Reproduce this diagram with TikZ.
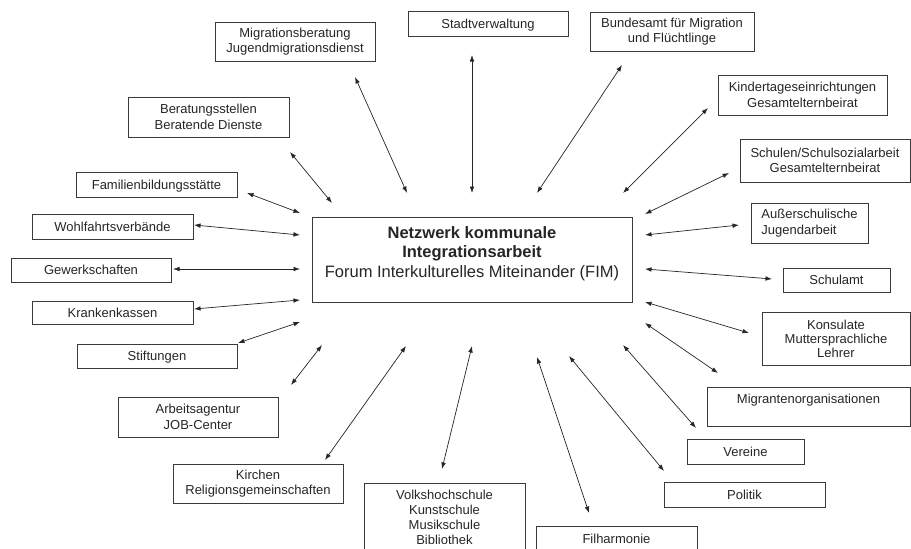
\documentclass[tikz,border=0pt]{standalone}
\usepackage{fontspec}
\setmainfont{Liberation Sans}
\usetikzlibrary{arrows.meta}
\definecolor{txt}{HTML}{262626}
\definecolor{edge}{HTML}{3A3A3A}
\tikzset{
  box/.style={draw=edge, line width=0.8pt, fill=white, inner sep=0pt, align=center, text=txt,
    font=\fontsize{13}{15.5}\selectfont},
  onebox/.style={draw=edge, line width=0.8pt, fill=white, inner sep=0pt, text=txt,
    font=\fontsize{13}{15.5}\selectfont, text height=9.5pt, text depth=0pt},
  hub/.style={draw=edge, line width=0.8pt, fill=white, inner sep=0pt},
  hubtext/.style={inner sep=0pt, align=center, text=txt, font=\fontsize{16.5}{19.5}\selectfont},
  link/.style={draw=black!85, line width=0.7pt, {Latex[length=6.5pt,width=4.6pt]}-{Latex[length=6.5pt,width=4.6pt]}}
}
\begin{document}
\begin{tikzpicture}[x=1pt,y=-1pt]
\useasboundingbox (0,0) rectangle (911,549);
\fill[white] (0,0) rectangle (911,549);
\clip (0,0) rectangle (911,549);

% hub
\node[hub, minimum width=320pt, minimum height=85pt] (hub) at (472,259.5) {};
\node[hubtext] (hublabel) at (472,253.5)
  {\textbf{Netzwerk kommunale}\\\textbf{Integrationsarbeit}\\Forum Interkulturelles Miteinander (FIM)};

% boxes
\node[box, minimum width=160pt, minimum height=39pt] (mig) at (295,41.5) {Migrationsberatung\\Jugendmigrationsdienst};
\node[onebox, minimum width=160pt, minimum height=24.5pt] (stadt) at (488,23.75) {Stadtverwaltung};
\node[box, minimum width=164pt, minimum height=39pt] (bamf) at (672,31.5) {Bundesamt für Migration\\und Flüchtlinge};
\node[box, minimum width=169pt, minimum height=40pt] (kita) at (802.5,95) {Kindertageseinrichtungen\\Gesamtelternbeirat};
\node[box, minimum width=170pt, minimum height=43pt] (schulen) at (825,160.5) {Schulen/Schulsozialarbeit\\Gesamtelternbeirat};
\node[box, align=left, minimum width=117pt, minimum height=40pt] (aussen) at (809.5,223) {Außerschulische\\Jugendarbeit};
\node[onebox, minimum width=107pt, minimum height=24pt] (schulamt) at (836.5,280) {Schulamt};
\node[box, minimum width=148pt, minimum height=53pt, font=\fontsize{13}{14}\selectfont] (konsul) at (836,338.5) {Konsulate\\Muttersprachliche\\Lehrer};
\node[box, minimum width=203pt, minimum height=39pt] (migorg) at (808.5,406.5) {Migrantenorganisationen\\~};
\node[onebox, minimum width=117pt, minimum height=25pt] (vereine) at (745.5,451.5) {Vereine};
\node[onebox, minimum width=161pt, minimum height=25pt] (politik) at (744.5,494.5) {Politik};
\node[onebox, minimum width=161pt, minimum height=26pt] (filh) at (616.5,539) {Filharmonie};
\node[box, minimum width=161pt, minimum height=69pt, font=\fontsize{13}{15}\selectfont] (vhs) at (444.5,517.5) {Volkshochschule\\Kunstschule\\Musikschule\\Bibliothek};
\node[box, minimum width=170pt, minimum height=39pt] (kirchen) at (258,483.5) {Kirchen\\Religionsgemeinschaften};
\node[box, minimum width=160pt, minimum height=40pt] (arbeit) at (198,417) {Arbeitsagentur\\JOB-Center};
\node[onebox, minimum width=160pt, minimum height=24pt] (stift) at (157,356) {Stiftungen};
\node[onebox, minimum width=161pt, minimum height=23pt] (kranken) at (112.5,312.5) {Krankenkassen};
\node[onebox, minimum width=160pt, minimum height=24pt] (gewerk) at (91,270) {Gewerkschaften};
\node[onebox, minimum width=161pt, minimum height=25pt] (wohl) at (112.5,226.5) {Wohlfahrtsverbände};
\node[onebox, minimum width=161pt, minimum height=25pt] (famil) at (156.5,184.5) {Familienbildungsstätte};
\node[box, minimum width=161pt, minimum height=40pt] (berat) at (208.5,117) {Beratungsstellen\\Beratende Dienste};

% connector end points
\coordinate (a1) at (355,77);   \coordinate (a2) at (407,193);
\coordinate (b1) at (472,55);   \coordinate (b2) at (472,193);
\coordinate (c1) at (622,65);   \coordinate (c2) at (537,193);
\coordinate (d1) at (708,108);  \coordinate (d2) at (623,193);
\coordinate (e1) at (729,173);  \coordinate (e2) at (645,214);
\coordinate (f1) at (739,225);  \coordinate (f2) at (645,235);
\coordinate (g1) at (772,279);  \coordinate (g2) at (645,269);
\coordinate (h1) at (749,333);  \coordinate (h2) at (645,302);
\coordinate (i1) at (718,373);  \coordinate (i2) at (645,323);
\coordinate (j1) at (696,428);  \coordinate (j2) at (623,345);
\coordinate (k1) at (664,471);  \coordinate (k2) at (569,356);
\coordinate (l1) at (589,513);  \coordinate (l2) at (537,357);
\coordinate (m1) at (442,469);  \coordinate (m2) at (472,346);
\coordinate (n1) at (325,460);  \coordinate (n2) at (406,346);
\coordinate (o1) at (291,385);  \coordinate (o2) at (322,345);
\coordinate (p1) at (238,343);  \coordinate (p2) at (300,322);
\coordinate (q1) at (194,309);  \coordinate (q2) at (300,300);
\coordinate (r1) at (173,269);  \coordinate (r2) at (300,269);
\coordinate (s1) at (194,225);  \coordinate (s2) at (300,235);
\coordinate (t1) at (247,193);  \coordinate (t2) at (300,213);
\coordinate (u1) at (290,152);  \coordinate (u2) at (332,203);

\foreach \p in {a,b,c,d,e,f,g,h,i,j,k,l,m,n,o,p,q,r,s,t,u}
  \draw[link] (\p1) -- (\p2);
\end{tikzpicture}
\end{document}
